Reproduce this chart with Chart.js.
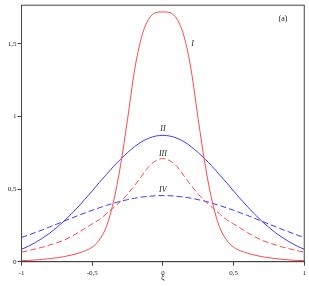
<!DOCTYPE html>
<html>
<head>
<meta charset="utf-8">
<script src="https://cdn.jsdelivr.net/npm/chart.js@4"></script>
<style>
  html, body { margin: 0; padding: 0; background: #fff; }
  #wrap { width: 309px; height: 286px; position: relative; }
</style>
</head>
<body>
<div id="wrap"><canvas id="c"></canvas></div>
<script>
/* ── data ── */
const xi = [-1, -0.95, -0.9, -0.85, -0.8, -0.75, -0.7, -0.65, -0.6, -0.55, -0.5,
            -0.45, -0.4, -0.35, -0.3, -0.25, -0.2, -0.15, -0.1, -0.05, 0,
            0.05, 0.1, 0.15, 0.2, 0.25, 0.3, 0.35, 0.4, 0.45, 0.5,
            0.55, 0.6, 0.65, 0.7, 0.75, 0.8, 0.85, 0.9, 0.95, 1];

const curveI = [0.007, 0.009, 0.012, 0.016, 0.021, 0.027, 0.035, 0.045, 0.058, 0.075, 0.1,
                0.15, 0.24, 0.41, 0.66, 0.98, 1.32, 1.55, 1.67, 1.715, 1.72,
                1.715, 1.67, 1.55, 1.32, 0.98, 0.66, 0.41, 0.24, 0.15, 0.1,
                0.075, 0.058, 0.045, 0.035, 0.027, 0.021, 0.016, 0.012, 0.009, 0.007];

const curveII = [0.085, 0.107, 0.133, 0.163, 0.197, 0.236, 0.279, 0.326, 0.377, 0.431, 0.487,
                 0.545, 0.599, 0.655, 0.705, 0.751, 0.792, 0.826, 0.850, 0.865, 0.870,
                 0.865, 0.850, 0.826, 0.792, 0.751, 0.705, 0.655, 0.599, 0.545, 0.487,
                 0.431, 0.377, 0.326, 0.279, 0.236, 0.197, 0.163, 0.133, 0.107, 0.085];

const curveIII = [0.066, 0.076, 0.088, 0.1, 0.115, 0.13, 0.148, 0.172, 0.2, 0.23, 0.26,
                  0.29, 0.33, 0.372, 0.415, 0.465, 0.525, 0.59, 0.655, 0.695, 0.71,
                  0.695, 0.655, 0.59, 0.525, 0.465, 0.415, 0.372, 0.33, 0.29, 0.26,
                  0.23, 0.2, 0.172, 0.148, 0.13, 0.115, 0.1, 0.088, 0.076, 0.066];

const curveIV = [0.167, 0.184, 0.202, 0.220, 0.240, 0.259, 0.279, 0.298, 0.318, 0.336, 0.354,
                 0.371, 0.387, 0.402, 0.416, 0.427, 0.437, 0.445, 0.450, 0.454, 0.455,
                 0.454, 0.450, 0.445, 0.437, 0.427, 0.416, 0.402, 0.387, 0.371, 0.354,
                 0.336, 0.318, 0.298, 0.279, 0.259, 0.240, 0.220, 0.202, 0.184, 0.167];

const xTicks = [-1, -0.5, 0, 0.5, 1];
const yTicks = [0, 0.5, 1, 1.5];

// curve labels: [text, ξ, value]
const curveLabels = [['I', 0.21, 1.5], ['II', 0, 0.915], ['III', 0, 0.74], ['IV', 0, 0.495]];

const RED = '#ff4a4a';
const BLUE = '#3c3cff';
const AXIS = '#444';
const FONT = "'Liberation Serif', 'DejaVu Serif', serif";

const pts = ys => xi.map((x, i) => ({ x, y: ys[i] }));
const comma = v => String(v).replace('.', ',');

/* ── frame and annotations ── */
const framePlugin = {
    id: 'frame',
    afterDraw(chart) {
        const { ctx, chartArea: a, scales } = chart;
        ctx.save();
        ctx.strokeStyle = AXIS;
        ctx.lineWidth = 1;
        ctx.strokeRect(a.left, a.top, a.right - a.left, a.bottom - a.top);

        ctx.fillStyle = '#222';
        ctx.textAlign = 'center';
        ctx.textBaseline = 'middle';
        ctx.font = 'italic 8px ' + FONT;
        curveLabels.forEach(([t, x, y]) => {
            ctx.fillText(t, scales.x.getPixelForValue(x), scales.y.getPixelForValue(y));
        });
        ctx.font = '8px ' + FONT;
        ctx.fillText('(a)', scales.x.getPixelForValue(0.85), scales.y.getPixelForValue(1.675));
        ctx.restore();
    },
};

const line = (label, data, color, dash) => ({
    label,
    data: pts(data),
    borderColor: color,
    borderWidth: 1,
    borderDash: dash,
    pointRadius: 0,
    fill: false,
    cubicInterpolationMode: 'monotone',
});

new Chart(document.getElementById('c').getContext('2d'), {
    type: 'line',
    data: {
        datasets: [
            line('I', curveI, RED, []),
            line('II', curveII, BLUE, []),
            line('III', curveIII, RED, [6, 3]),
            line('IV', curveIV, BLUE, [6, 3]),
        ],
    },
    options: {
        responsive: true,
        maintainAspectRatio: false,
        animation: false,
        layout: { padding: { top: 3, right: 3, left: 0, bottom: 0 } },
        plugins: { legend: { display: false }, tooltip: { enabled: false } },
        scales: {
            x: {
                type: 'linear',
                min: -1,
                max: 1,
                afterBuildTicks: s => { s.ticks = xTicks.map(v => ({ value: v })); },
                afterFit: s => { s.height = 24.3; },
                ticks: {
                    color: '#222',
                    font: { family: FONT, size: 7 },
                    padding: 3,
                    maxRotation: 0,
                    callback: v => comma(v),
                },
                grid: { drawOnChartArea: false, drawTicks: true, tickLength: 4, color: AXIS },
                border: { display: true, color: AXIS },
                title: {
                    display: true,
                    text: 'ξ',
                    color: '#222',
                    font: { family: FONT, size: 8 },
                    padding: { top: 0, bottom: 3 },
                },
            },
            y: {
                type: 'linear',
                min: 0,
                max: 1.766,
                afterBuildTicks: s => { s.ticks = yTicks.map(v => ({ value: v })); },
                afterFit: s => { s.width = 21.5; },
                ticks: {
                    color: '#222',
                    font: { family: FONT, size: 7 },
                    padding: 1,
                    callback: v => comma(v),
                },
                grid: { drawOnChartArea: false, drawTicks: true, tickLength: 4, color: AXIS },
                border: { display: true, color: AXIS },
            },
        },
    },
    plugins: [framePlugin],
});
</script>
</body>
</html>
